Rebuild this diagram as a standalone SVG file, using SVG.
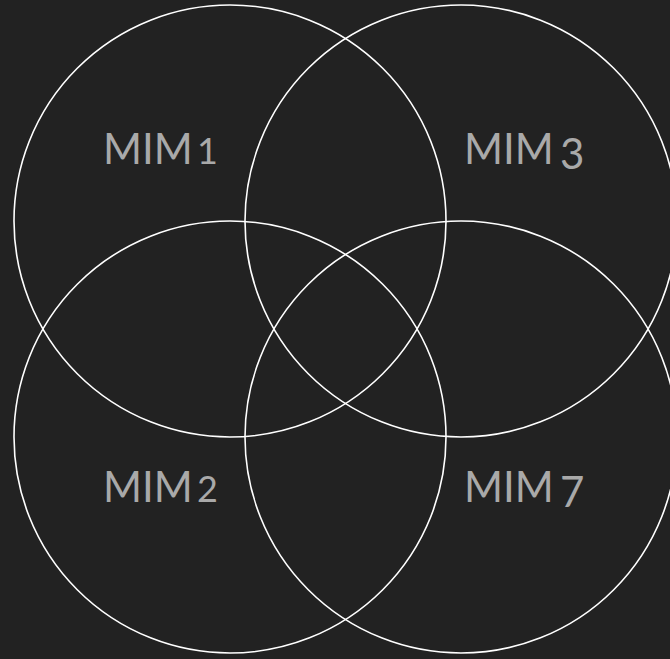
<svg xmlns="http://www.w3.org/2000/svg" width="670" height="659" viewBox="0 0 670 659">
<style>
.set{fill:none;stroke:#ffffff;stroke-width:1.6}
.lbl{font-family:Lato,"Open Sans","DejaVu Sans",sans-serif;font-size:42px;fill:#a9a9a9}
.lo{font-size:36px}
.od{font-size:42px}
</style>
<rect width="670" height="659" fill="#222222"/>
<g id="connectors"></g>
<g id="MIM1"><circle class="set" cx="230" cy="221" r="216"/><text class="lbl" x="103" y="164">MIM<tspan class="lo" x="197">1</tspan></text></g>
<g id="MIM3"><circle class="set" cx="461" cy="221" r="216"/><text class="lbl" x="464" y="164">MIM<tspan class="od" x="560" dy="5">3</tspan></text></g>
<g id="MIM2"><circle class="set" cx="230" cy="437" r="216"/><text class="lbl" x="103" y="502">MIM<tspan class="lo" x="197">2</tspan></text></g>
<g id="MIM7"><circle class="set" cx="461" cy="437" r="216"/><text class="lbl" x="464" y="502">MIM<tspan class="od" x="560" dy="5">7</tspan></text></g>
</svg>
